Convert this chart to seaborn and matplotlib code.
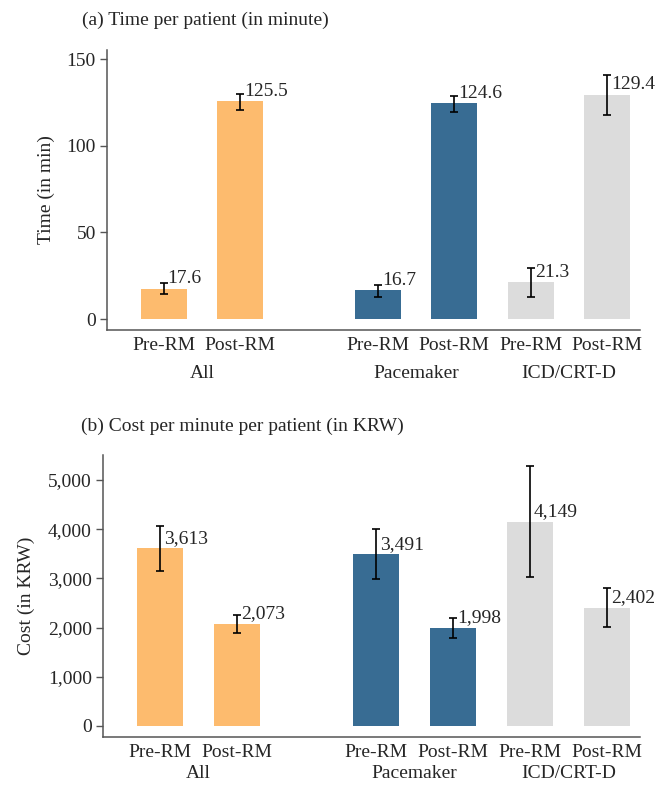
import matplotlib
matplotlib.use("Agg")
import matplotlib.pyplot as plt
import seaborn as sns
import pandas as pd
import numpy as np
from matplotlib.ticker import FuncFormatter

# ---- data ----
groups = ["All", "All", "Pacemaker", "Pacemaker", "ICD/CRT-D", "ICD/CRT-D"]
periods = ["Pre-RM", "Post-RM", "Pre-RM", "Post-RM", "Pre-RM", "Post-RM"]
positions = [0.0, 1.0, 2.8, 3.8, 4.8, 5.8]
group_names = ["All", "Pacemaker", "ICD/CRT-D"]

time_mean = [17.6, 125.5, 16.7, 124.6, 21.3, 129.4]
time_low = [14.4, 120.6, 12.9, 119.6, 12.6, 117.6]
time_high = [20.8, 129.6, 19.9, 128.9, 29.6, 140.6]

cost_mean = [3613, 2073, 3491, 1998, 4149, 2402]
cost_low = [3150, 1890, 2988, 1790, 3028, 2010]
cost_high = [4065, 2256, 4004, 2195, 5285, 2805]

palette = {"All": "#FDBB6E", "Pacemaker": "#386C93", "ICD/CRT-D": "#DCDCDC"}

sns.set_style("white")
plt.rcParams["font.family"] = ["Liberation Serif", "DejaVu Serif"]
plt.rcParams["font.size"] = 14

fig = plt.figure(figsize=(6.57, 7.87), dpi=100)
ax1 = fig.add_axes([107/657, 1-330/787, (640-107)/657, (330-50)/787])
ax2 = fig.add_axes([103/657, 1-737/787, (640-103)/657, (737-455)/787])


def draw(ax, mean, low, high, ylim, yticks, fmt, ylabel, labelpad, grp_off):
    df = pd.DataFrame({"pos": positions, "val": mean, "grp": groups})
    sns.barplot(data=df, x="pos", y="val", hue="grp", palette=palette,
                native_scale=True, dodge=False, width=0.6, legend=False,
                saturation=1, ax=ax, edgecolor="none")
    m = np.array(mean)
    yerr = np.vstack([m - np.array(low), np.array(high) - m])
    ax.errorbar(positions, m, yerr=yerr, fmt="none", ecolor="black",
                elinewidth=1.2, capsize=2.8, capthick=1.2, zorder=5)
    for p, v in zip(positions, mean):
        ax.annotate(fmt(v), xy=(p, v), xytext=(2.9, 7.2),
                    textcoords="offset points", ha="left", va="center",
                    fontsize=14, zorder=6)
    ax.set_xlim(-0.74, 6.23)
    ax.set_ylim(*ylim)
    ax.set_yticks(yticks)
    ax.set_xticks(positions)
    ax.set_xticklabels(periods)
    ax.set_xlabel("")
    ax.set_ylabel(ylabel, fontsize=14, labelpad=labelpad)
    ax.tick_params(axis="x", length=0, pad=5, labelsize=14)
    ax.tick_params(axis="y", left=True, length=5, width=1, color="#555555",
                   labelsize=14, pad=3)
    for s in ["top", "right"]:
        ax.spines[s].set_visible(False)
    for s in ["left", "bottom"]:
        ax.spines[s].set_color("#555555")
        ax.spines[s].set_linewidth(1.1)
    for i, g in enumerate(group_names):
        mid = (positions[2*i] + positions[2*i+1]) / 2
        ax.annotate(g, xy=(mid, 0), xycoords=("data", "axes fraction"),
                    xytext=(0, -grp_off), textcoords="offset points",
                    ha="center", va="center", fontsize=14)


draw(ax1, time_mean, time_low, time_high, (-6.3, 155.2), [0, 50, 100, 150],
     lambda v: f"{v:.1f}", "Time (in min)", 8.5, 31)
draw(ax2, cost_mean, cost_low, cost_high, (-224, 5508),
     [0, 1000, 2000, 3000, 4000, 5000], lambda v: f"{v:,.0f}", "Cost (in KRW)",
     9, 26.5)
ax2.yaxis.set_major_formatter(FuncFormatter(lambda v, p: f"{v:,.0f}"))

fig.text(82/657, 1-20/787, "(a) Time per patient (in minute)", ha="left",
         va="center", fontsize=14)
fig.text(81/657, 1-426/787, "(b) Cost per minute per patient (in KRW)",
         ha="left", va="center", fontsize=14)

fig.savefig("out.png", dpi=100)
